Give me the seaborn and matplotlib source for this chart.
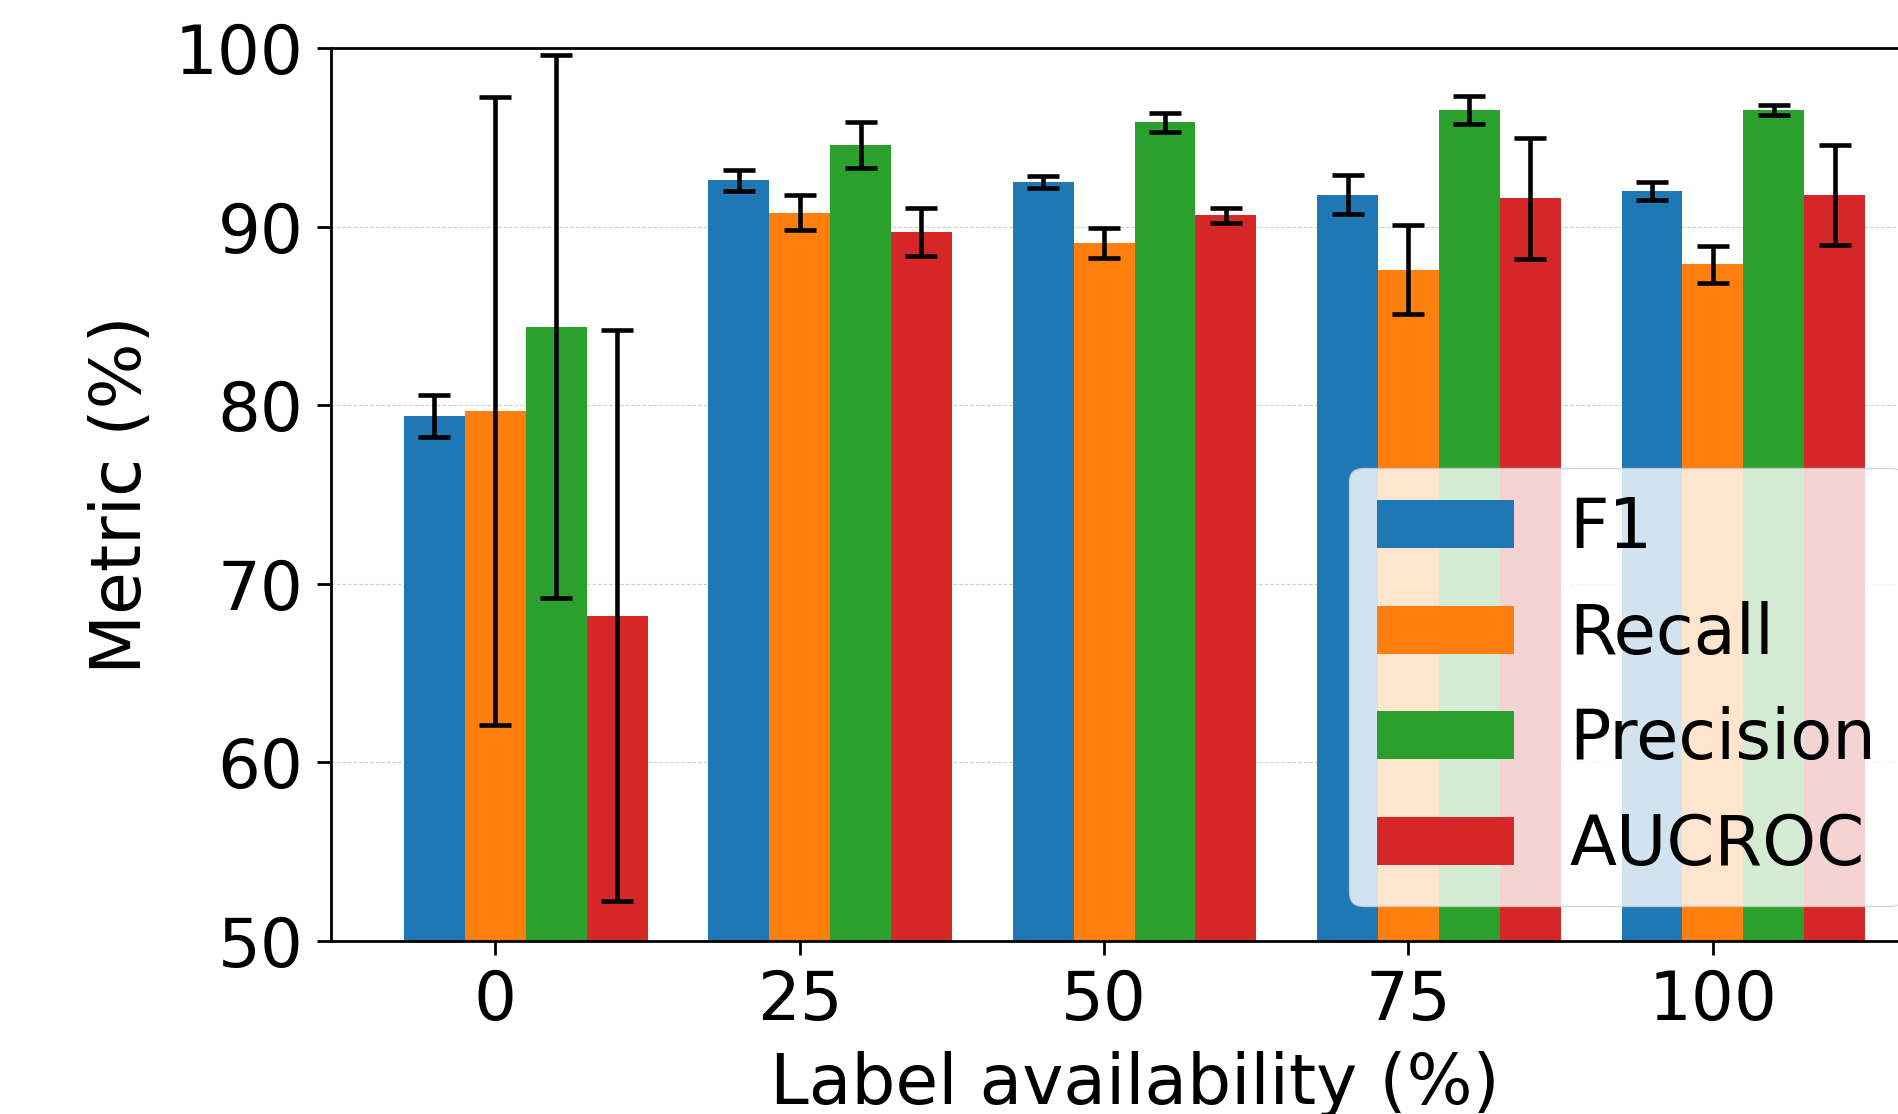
import numpy as np
import pandas as pd
import seaborn as sns
import matplotlib
matplotlib.use("Agg")
import matplotlib.pyplot as plt

# values (mean and std, in %)
availability = ["0", "25", "50", "75", "100"]
metrics = ["F1", "Recall", "Precision", "AUCROC"]

f1_mean = [79.4, 92.6, 92.5, 91.8, 92.0]
f1_std = [1.2, 0.6, 0.35, 1.1, 0.5]
recall_mean = [79.7, 90.8, 89.1, 87.6, 87.9]
recall_std = [17.6, 1.0, 0.85, 2.5, 1.05]
precision_mean = [84.4, 94.6, 95.85, 96.55, 96.55]
precision_std = [15.2, 1.3, 0.55, 0.8, 0.28]
aucroc_mean = [68.2, 89.7, 90.65, 91.6, 91.8]
aucroc_std = [16.0, 1.35, 0.42, 3.4, 2.8]

means = [f1_mean, recall_mean, precision_mean, aucroc_mean]
stds = [f1_std, recall_std, precision_std, aucroc_std]

rows = []
for m, vals in zip(metrics, means):
    for a, v in zip(availability, vals):
        rows.append({"Label availability": a, "Metric": m, "value": v})
df = pd.DataFrame(rows)

colors = ["#1f77b4", "#ff7f0e", "#2ca02c", "#d62728"]

fig = plt.figure(figsize=(18.98, 11.14), dpi=100)
ax = fig.add_axes([0.1744, 0.1557, 0.8467, 0.8009])

sns.barplot(data=df, x="Label availability", y="value", hue="Metric",
            order=availability, hue_order=metrics, palette=colors,
            saturation=1, errorbar=None, width=0.8, gap=0, linewidth=0,
            ax=ax)

# error bars on top of each bar
for cont, sd in zip(ax.containers, stds):
    bars = sorted(cont.patches, key=lambda b: b.get_x())
    xs = [b.get_x() + b.get_width() / 2 for b in bars]
    ys = [b.get_height() for b in bars]
    ax.errorbar(xs, ys, yerr=sd, fmt="none", ecolor="black",
                elinewidth=3.3, capsize=11.5, capthick=3.3, zorder=5)

# ticks sit under the second bar of each group (as in the original)
bar_w = ax.containers[0].patches[0].get_width()
ax.set_xticks(np.arange(len(availability)) - bar_w / 2, availability)
ax.set_xlim(-0.64, 4.64)
ax.set_ylim(50, 100)
ax.set_yticks([50, 60, 70, 80, 90, 100])

ax.set_axisbelow(True)
ax.yaxis.grid(True, linestyle=(0, (3, 2)), linewidth=0.8, color="#cccccc")

ax.set_xlabel("Label availability (%)", fontsize=50, labelpad=12)
ax.set_ylabel("Metric (%)", fontsize=50, labelpad=14)
ax.tick_params(axis="both", labelsize=48.5, width=2, length=10, pad=10)
for s in ax.spines.values():
    s.set_linewidth(2)
    s.set_color("black")

sns.move_legend(ax, "lower right", title=None, fontsize=49.5, frameon=True,
                borderaxespad=0.5, labelspacing=0.56)

fig.savefig("out.png", dpi=100)
